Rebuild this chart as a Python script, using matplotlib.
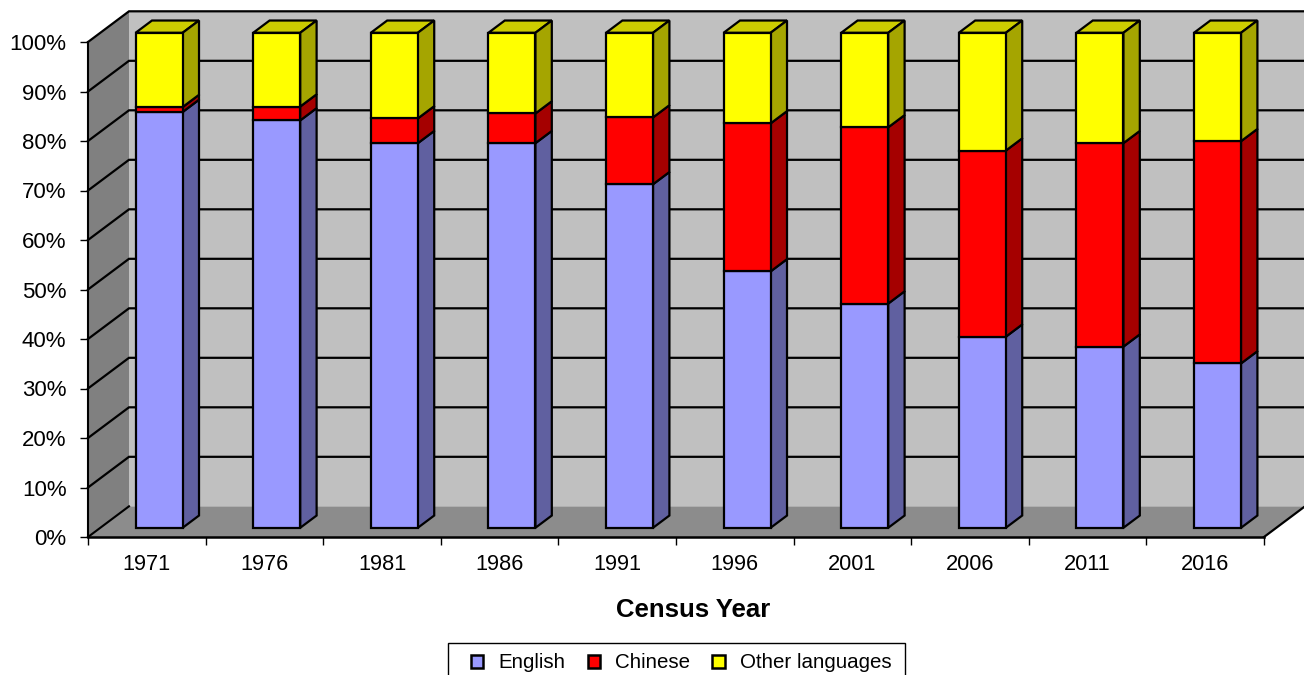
import matplotlib
matplotlib.use("Agg")
import numpy as np
import matplotlib.pyplot as plt
from matplotlib.patches import Polygon, Patch, Rectangle

plt.rcParams['font.family'] = ['Liberation Sans', 'DejaVu Sans']

years = ['1971', '1976', '1981', '1986', '1991', '1996', '2001', '2006', '2011', '2016']
english = [84.0, 82.3, 77.7, 77.7, 69.4, 51.8, 45.3, 38.6, 36.6, 33.2]
chinese = [1.0, 2.8, 5.0, 6.0, 13.5, 29.9, 35.6, 37.6, 41.1, 44.9]
other = [15.0, 14.9, 17.3, 16.3, 17.1, 18.3, 19.1, 23.8, 22.3, 21.9]
series_names = ['English', 'Chinese', 'Other languages']

face_colors = ['#9999FF', '#FF0000', '#FFFF00']
side_colors = ['#6060A0', '#A50000', '#A5A500']
top_color = '#CCCC00'

# oblique projection: one unit of depth in data units
DX = 0.3486
DY = 6.2


def proj(x, y, d):
    return (x + d * DX, y + d * DY)


def quad(ax, pts, color, lw=1.6, edge='black', z=2):
    ax.add_patch(Polygon(pts, closed=True, facecolor=color, edgecolor=edge,
                         linewidth=lw, clip_on=False, zorder=z, joinstyle='miter'))


def draw_box(ax, x0, x1, y0, y1, d0, d1, face, side, top=None):
    if top is not None:
        quad(ax, [proj(x0, y1, d0), proj(x1, y1, d0), proj(x1, y1, d1), proj(x0, y1, d1)], top, z=3)
    quad(ax, [proj(x1, y0, d0), proj(x1, y0, d1), proj(x1, y1, d1), proj(x1, y1, d0)], side, z=3)
    quad(ax, [proj(x0, y0, d0), proj(x1, y0, d0), proj(x1, y1, d0), proj(x0, y1, d0)], face, z=4)


fig = plt.figure(figsize=(13.04, 6.75), dpi=100)
ax = fig.add_axes([88 / 1304, (675 - 537) / 675, 1176 / 1304, 495 / 675])
ax.set_xlim(0, len(years))
ax.set_ylim(0, 100)
n = len(years)

# walls and floor
quad(ax, [proj(0, 0, 1), proj(n, 0, 1), proj(n, 100, 1), proj(0, 100, 1)], '#C0C0C0', lw=0, edge='none', z=0)
quad(ax, [proj(0, 0, 0), proj(0, 0, 1), proj(0, 100, 1), proj(0, 100, 0)], '#808080', lw=0, edge='none', z=0)
quad(ax, [proj(0, 0, 0), proj(n, 0, 0), proj(n, 0, 1), proj(0, 0, 1)], '#8C8C8C', lw=0, edge='none', z=0)

# gridlines run over the side wall and the back wall
for v in range(10, 101, 10):
    pts = [proj(0, v, 0), proj(0, v, 1), proj(n, v, 1)]
    ax.plot([p[0] for p in pts], [p[1] for p in pts], color='black', lw=1.6,
            clip_on=False, zorder=1, solid_joinstyle='miter')

# floor edges
ax.plot(*zip(proj(0, 0, 0), proj(0, 0, 1)), color='black', lw=1.5, clip_on=False, zorder=1)
ax.plot(*zip(proj(n, 0, 0), proj(n, 0, 1)), color='black', lw=1.6, clip_on=False, zorder=1)

# stacked bars
bar_w = 0.4
for i in range(n):
    x0 = i + 0.5 - bar_w / 2
    x1 = x0 + bar_w
    vals = [english[i], chinese[i], other[i]]
    base = 0
    for j, v in enumerate(vals):
        top = top_color if j == 2 else None
        draw_box(ax, x0, x1, base, base + v, 0.3, 0.7, face_colors[j], side_colors[j], top)
        base += v

ax.patch.set_visible(False)
for s in ['top', 'right']:
    ax.spines[s].set_visible(False)
ax.spines['left'].set_linewidth(1.5)
ax.spines['bottom'].set_linewidth(1.8)
ax.spines['left'].set_zorder(5)
ax.spines['bottom'].set_zorder(5)

ax.set_yticks(range(0, 101, 10))
ax.set_yticklabels([f'{v}%' for v in range(0, 101, 10)], fontsize=16)
ax.tick_params(axis='y', length=5.5, width=1, pad=10)
ax.set_xticks(np.arange(n + 1))
ax.set_xticklabels([])
ax.set_xticks(np.arange(n) + 0.5, minor=True)
ax.set_xticklabels(years, minor=True, fontsize=15.7)
ax.tick_params(axis='x', which='major', length=5.5, width=1)
ax.tick_params(axis='x', which='minor', length=0, pad=12)
ax.set_xlabel('Census Year', fontsize=18.5, fontweight='bold', x=(693 - 88) / 1176, labelpad=17)

# legend box runs off the bottom of the figure
fig.add_artist(Rectangle((448 / 1304, -0.02), 457 / 1304, 1 - 643 / 675 + 0.02,
                         transform=fig.transFigure, facecolor='white', edgecolor='black',
                         linewidth=1, zorder=-1))
handles = [Patch(facecolor=c, edgecolor='black', linewidth=1.8) for c in face_colors]
leg = ax.legend(handles, series_names, loc='center left', ncol=3,
                bbox_to_anchor=(471 / 1304, 1 - 663 / 675), bbox_transform=fig.transFigure,
                fontsize=14.8, frameon=False,
                handlelength=0.6, handleheight=0.6, handletextpad=0.72, columnspacing=1.1,
                borderpad=0, borderaxespad=0)

fig.savefig('out.png', dpi=100)
